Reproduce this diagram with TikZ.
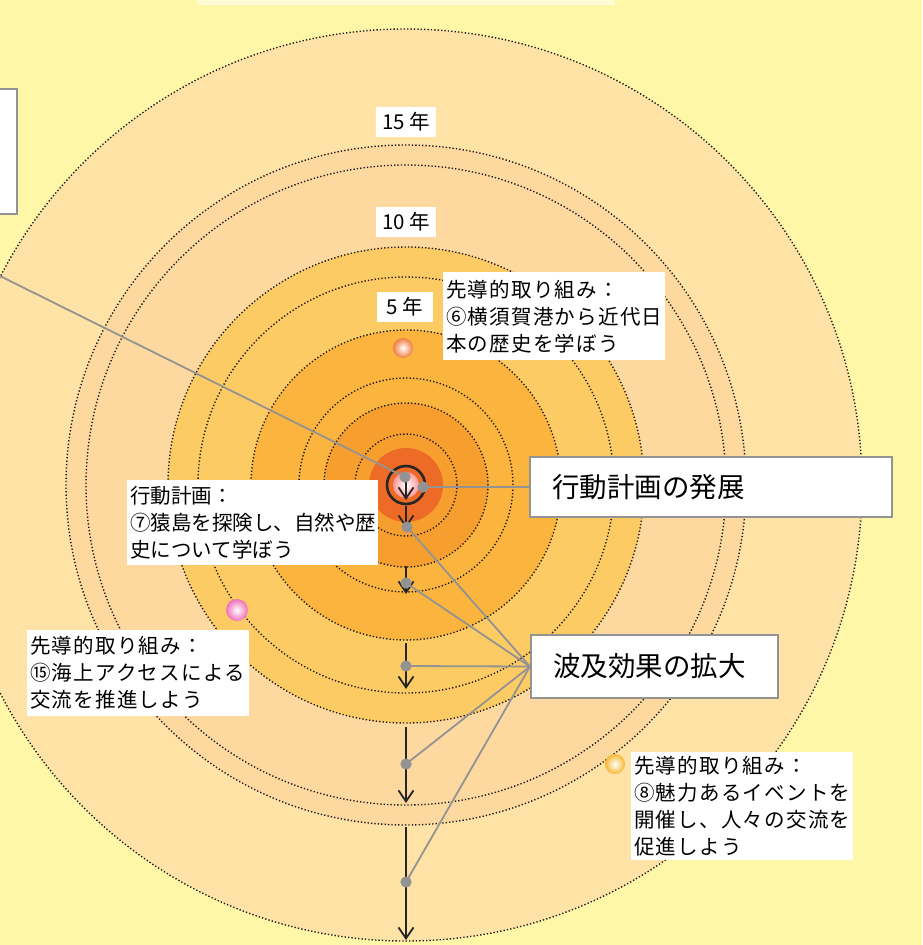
\documentclass[tikz,border=0pt]{standalone}
\usepackage{fontspec}
\setmainfont{Noto Sans CJK JP}
\usetikzlibrary{arrows.meta}
\definecolor{bg}{HTML}{FFF7A8}
\definecolor{topbar}{HTML}{FFFBD4}
\definecolor{cA}{HTML}{FFE2A5}
\definecolor{cB}{HTML}{FDD89F}
\definecolor{cC}{HTML}{FDCB64}
\definecolor{cD}{HTML}{FBB43D}
\definecolor{cE}{HTML}{F79F2E}
\definecolor{cF}{HTML}{EE6A27}
\definecolor{conn}{HTML}{939393}
\definecolor{orbO}{HTML}{F07E40}
\definecolor{orbP}{HTML}{F070B8}
\definecolor{orbY}{HTML}{F6B830}
\tikzset{
  dotring/.style={draw=black!90, line width=1.4pt, dash pattern=on 1.3pt off 2.1pt},
  conline/.style={draw=conn, line width=1.8pt},
  gdot/.style={circle, fill=conn, inner sep=0pt, minimum size=11pt},
  axis/.style={draw=black!85, line width=1.8pt, -{Straight Barb[length=11pt,width=15pt,line width=1.8pt]}},
  tbox/.style={fill=white, inner xsep=3pt, inner ysep=4pt, anchor=north west, align=left,
    font=\fontsize{20.5}{27}\selectfont},
  wide/.style={font=\fontsize{20.5}{27}\selectfont\addfontfeatures{LetterSpace=6}},
  bigbox/.style={draw=conn, line width=2pt, fill=white, inner xsep=22pt, inner ysep=0pt,
    align=left, font=\fontsize{27.5}{30}\selectfont},
  yearbox/.style={fill=white, inner sep=0pt, minimum width=60pt, minimum height=30pt,
    font=\fontsize{20.5}{22}\selectfont}
}
\begin{document}
\begin{tikzpicture}[x=1pt,y=-1pt]
\useasboundingbox (0,0) rectangle (922,945);
\fill[bg] (0,0) rectangle (922,945);
\fill[topbar] (197,0) rectangle (615,5);
\coordinate (C) at (406,485);
% filled discs
\fill[cA] (C) circle[radius=456pt];
\fill[cB] (C) circle[radius=340pt];
\fill[cC] (C) circle[radius=238pt];
\fill[cD] (C) circle[radius=155pt];
\fill[cE] (C) circle[radius=82pt];
\fill[cF] (C) circle[radius=37pt];
% dotted rings
\foreach \r in {456,340,320,238,208,155,107,82,51}
  \draw[dotring] (C) circle[radius=\r pt];
% left box (partly visible)
\node[draw=conn, line width=2pt, fill=white, minimum width=30pt, minimum height=125pt, inner sep=0pt] (leftbox) at (2,151.5) {};
% orbs
\shade[inner color=white, outer color=orbO] (403,348) circle[radius=10pt];
\shade[inner color=white, outer color=orbP] (237,610) circle[radius=11pt];
\shade[inner color=white, outer color=orbY] (615,764) circle[radius=10pt];
% centre ball and ring
\shade[inner color=white, outer color=pink!80!red] (C) circle[radius=13pt];
\draw[black!85, line width=2.6pt] (C) circle[radius=19pt];
% boxes
\node[bigbox, text width=318pt, minimum height=60pt] (dev) at (711,487) {行動計画の発展};
\node[bigbox, text width=203pt, minimum height=63pt] (spread) at (654.5,666.5) {波及効果の拡大};
% dots
\node[gdot] (c0) at (405,477) {};
\node[gdot] (c1) at (423,487) {};
\node[gdot] (d1) at (407,527) {};
\node[gdot] (d2) at (406,583) {};
\node[gdot] (d3) at (406,666) {};
\node[gdot] (d4) at (406,764) {};
\node[gdot] (d5) at (406,882) {};
\coordinate (lend) at (0,276);
% axis arrows
\coordinate (a1s) at (406,482); \coordinate (a1e) at (406,500);
\coordinate (a2s) at (406,506); \coordinate (a2e) at (406,528);
\coordinate (a3s) at (406,566); \coordinate (a3e) at (406,594);
\coordinate (a4s) at (406,643); \coordinate (a4e) at (406,689);
\coordinate (a5s) at (406,727); \coordinate (a5e) at (406,803);
\coordinate (a6s) at (406,827); \coordinate (a6e) at (406,940);
\foreach \i in {1,...,6} \draw[axis] (a\i s) -- (a\i e);
% connectors
\draw[conline] (lend) -- (c0.center);
\draw[conline] (c1.center) -- (dev.west);
\foreach \d in {d1,d2,d3,d4,d5} \draw[conline] (\d.center) -- (spread.west);
% redraw dots on top
\foreach \p in {(405,477),(423,487),(407,527),(406,583),(406,666),(406,764),(406,882)}
  \fill[conn] \p circle[radius=5.5pt];
% year labels
\node[yearbox] (y15) at (406,122) {15 年};
\node[yearbox] (y10) at (406,222) {10 年};
\node[yearbox, minimum width=56pt] (y5) at (405,307) {5 年};
% text boxes
\node[tbox, wide, text width=216pt, minimum height=88pt] (b6) at (443,272) {先導的取り組み：\\⑥横須賀港から近代日\\本の歴史を学ぼう};
\node[tbox, text width=245pt, minimum height=85pt] (b7) at (127,480) {行動計画：\\⑦猿島を探険し、自然や歴\\史について学ぼう};
\node[tbox, wide, text width=216pt, minimum height=86pt] (b15) at (27,630) {先導的取り組み：\\⑮海上アクセスによる\\交流を推進しよう};
\node[tbox, wide, text width=216pt, minimum height=106pt] (b8) at (631,752) {先導的取り組み：\\⑧魅力あるイベントを\\開催し、人々の交流を\\促進しよう};
\end{tikzpicture}
\end{document}
